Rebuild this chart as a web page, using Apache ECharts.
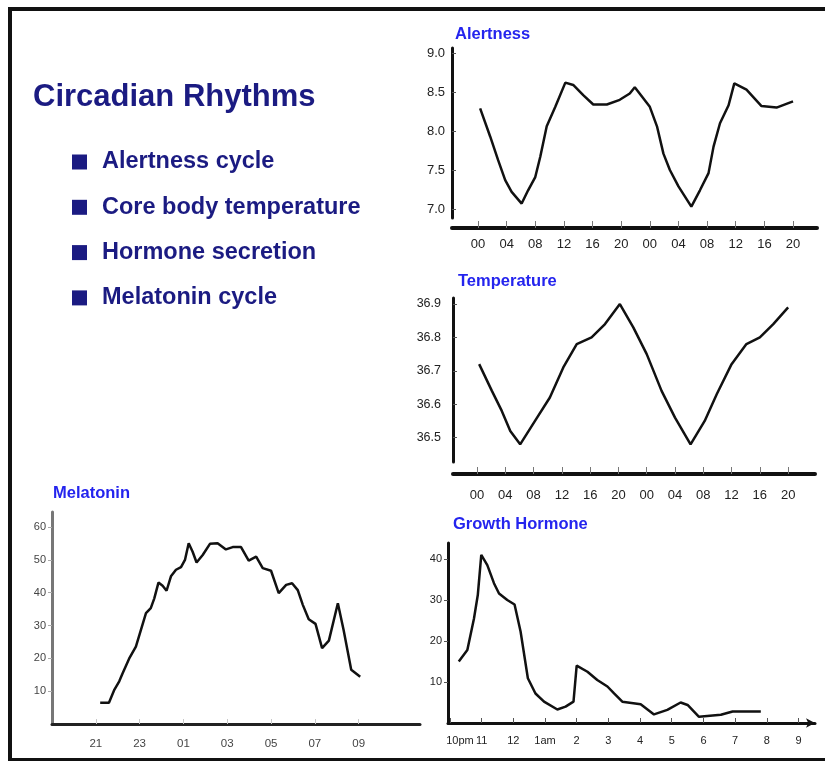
<!DOCTYPE html>
<html>
<head>
<meta charset="utf-8">
<script src="https://cdn.jsdelivr.net/npm/echarts@6/dist/echarts.min.js"></script>
<style>
html,body{margin:0;padding:0;background:#fff;overflow:hidden}
#wrap{position:relative;width:825px;height:762px;overflow:hidden;background:#fff}
#chart{position:absolute;left:0;top:0;width:825px;height:762px}
#frame{position:absolute;left:8px;top:7px;width:840px;height:747px;border-left:4px solid #111;border-top:4px solid #111;border-bottom:3px solid #111;pointer-events:none}
</style>
</head>
<body>
<div id="wrap"><div id="chart"></div><div id="frame"></div></div>
<script>
// ---------- text ----------
const mainTitle = 'Circadian Rhythms';
const bulletItems = ['Alertness cycle', 'Core body temperature', 'Hormone secretion', 'Melatonin cycle'];
const panelTitles = ['Alertness', 'Temperature', 'Melatonin', 'Growth Hormone'];

// ---------- Alertness (hours from midnight of day 1) ----------
const alertHours  = [0.3, 1.7, 2.8, 3.8, 4.7, 6.1, 7.0, 8.0, 8.7, 9.6, 10.8, 12.2, 13.3, 14.7, 16.1, 18.0, 19.8, 21.2, 21.9, 24.0, 25.0, 25.9, 26.8, 28.0, 29.8, 31.0, 32.2, 32.9, 33.8, 35.0, 35.8, 37.5, 39.6, 41.7, 44.0];
const alertValues = [8.29, 7.93, 7.63, 7.37, 7.22, 7.07, 7.24, 7.41, 7.67, 8.06, 8.31, 8.62, 8.59, 8.46, 8.34, 8.34, 8.40, 8.48, 8.56, 8.31, 8.06, 7.71, 7.50, 7.29, 7.03, 7.24, 7.46, 7.80, 8.10, 8.33, 8.61, 8.53, 8.32, 8.30, 8.38];
const alertXTicks  = [0, 4, 8, 12, 16, 20, 24, 28, 32, 36, 40, 44];
const alertXLabels = ['00', '04', '08', '12', '16', '20', '00', '04', '08', '12', '16', '20'];
const alertYTicks  = [7.0, 7.5, 8.0, 8.5, 9.0];
const alertYLabels = ['7.0', '7.5', '8.0', '8.5', '9.0'];

// ---------- Temperature ----------
const tempHours  = [0.3, 2.1, 3.5, 4.7, 6.1, 8.2, 10.3, 12.2, 14.1, 16.2, 18.1, 20.2, 22.1, 24.0, 26.1, 28.0, 30.2, 32.2, 33.9, 36.0, 38.1, 40.0, 41.9, 44.0];
const tempValues = [36.72, 36.64, 36.58, 36.52, 36.48, 36.55, 36.62, 36.71, 36.78, 36.80, 36.84, 36.90, 36.83, 36.75, 36.64, 36.56, 36.48, 36.55, 36.63, 36.72, 36.78, 36.80, 36.84, 36.89];
const tempXTicks  = [0, 4, 8, 12, 16, 20, 24, 28, 32, 36, 40, 44];
const tempXLabels = ['00', '04', '08', '12', '16', '20', '00', '04', '08', '12', '16', '20'];
const tempYTicks  = [36.5, 36.6, 36.7, 36.8, 36.9];
const tempYLabels = ['36.5', '36.6', '36.7', '36.8', '36.9'];

// ---------- Melatonin (hours, 21 = 9pm, 25 = 1am ...) ----------
const melaHours  = [21.2, 21.6, 21.85, 22.07, 22.22, 22.52, 22.83, 23.06, 23.29, 23.51, 23.67, 23.86, 24.05, 24.23, 24.43, 24.66, 24.89, 25.07, 25.24, 25.42, 25.6, 25.88, 26.21, 26.56, 26.94, 27.25, 27.63, 27.98, 28.32, 28.62, 29.0, 29.35, 29.69, 29.96, 30.22, 30.45, 30.72, 31.03, 31.33, 31.64, 32.05, 32.31, 32.66, 33.07];
const melaValues = [6.5, 6.5, 10.5, 13.0, 15.4, 19.9, 23.6, 28.7, 33.8, 35.3, 38.3, 43.1, 42.1, 40.6, 45.0, 47.0, 47.8, 50.0, 55.1, 52.5, 49.2, 51.5, 54.9, 55.1, 53.2, 53.9, 53.9, 49.8, 51.0, 47.5, 46.7, 39.9, 42.4, 42.9, 40.8, 36.3, 31.9, 30.5, 23.1, 25.4, 36.8, 28.7, 16.5, 14.4];
const melaXTicks  = [21, 23, 25, 27, 29, 31, 33];
const melaXLabels = ['21', '23', '01', '03', '05', '07', '09'];
const melaYTicks  = [10, 20, 30, 40, 50, 60];
const melaYLabels = ['10', '20', '30', '40', '50', '60'];

// ---------- Growth hormone ----------
const ghHours  = [22.28, 22.55, 22.76, 22.88, 22.99, 23.18, 23.39, 23.55, 23.81, 24.04, 24.23, 24.46, 24.7, 24.97, 25.39, 25.65, 25.9, 26.0, 26.34, 26.65, 26.97, 27.18, 27.44, 28.02, 28.44, 28.86, 29.28, 29.5, 29.86, 30.55, 30.92, 31.81];
const ghValues = [15.0, 17.8, 25.5, 31.2, 41.0, 38.5, 34.1, 31.6, 30.0, 28.9, 22.3, 10.9, 7.2, 5.2, 3.3, 4.0, 5.2, 14.0, 12.5, 10.5, 8.9, 7.2, 5.2, 4.6, 2.1, 3.2, 5.0, 4.4, 1.5, 2.0, 2.8, 2.8];
const ghXTicks  = [22, 23, 24, 25, 26, 27, 28, 29, 30, 31, 32, 33];
const ghXLabels = ['10pm', '11', '12', '1am', '2', '3', '4', '5', '6', '7', '8', '9'];
const ghYTicks  = [10, 20, 30, 40];
const ghYLabels = ['10', '20', '30', '40'];

// ---------- styling ----------
const NAVY = '#1b1b82';
const BLUE = '#2424ee';
const FONT = '"Liberation Sans", Arial, Helvetica, sans-serif';

const pairs = (xs, ys) => xs.map((x, i) => [x, ys[i]]);
const lookup = (ticks, labels) => (v) => {
  const i = ticks.findIndex(t => Math.abs(t - v) < 1e-6);
  return i >= 0 ? labels[i] : '';
};

function xAxisCfg(grid, min, max, ticks, labels, opt) {
  return {
    type: 'value', gridIndex: grid, min: min, max: max,
    offset: opt.offset || 0,
    splitLine: { show: false },
    axisLine: { show: true, onZero: false, lineStyle: { color: opt.lineColor || '#111', width: opt.lineWidth || 4 },
                symbol: opt.symbol || ['none', 'none'], symbolSize: [7, 9] },
    axisTick: { show: true, inside: true, length: opt.tickLen || 7, customValues: ticks,
                lineStyle: { color: opt.tickColor || '#777', width: 1 } },
    axisLabel: { show: true, showMinLabel: true, showMaxLabel: true, hideOverlap: false,
                 customValues: ticks, formatter: opt.formatter || lookup(ticks, labels),
                 margin: opt.margin, fontFamily: FONT, fontSize: opt.fontSize || 13, color: opt.labelColor || '#222',
                 rich: opt.rich }
  };
}
function yAxisCfg(grid, min, max, ticks, labels, opt) {
  return {
    type: 'value', gridIndex: grid, min: min, max: max,
    splitLine: { show: false },
    axisLine: { show: true, onZero: false, lineStyle: { color: opt.lineColor || '#111', width: opt.lineWidth || 3 } },
    axisTick: { show: true, inside: opt.tickInside !== false, length: 4, customValues: ticks,
                lineStyle: { color: opt.tickColor || '#555', width: 1 } },
    axisLabel: { show: true, customValues: ticks, formatter: lookup(ticks, labels),
                 margin: opt.margin, fontFamily: FONT, fontSize: opt.fontSize || 13, color: opt.labelColor || '#222' }
  };
}

const titles = [
  { text: mainTitle, left: 33, top: 82, padding: 0, textStyle: { fontFamily: FONT, fontSize: 31, fontWeight: 'bold', color: NAVY } }
];
bulletItems.forEach((b, i) => {
  titles.push({
    text: '{sq|}{t|' + b + '}', left: 72, top: 150 + i * 45.3, padding: 0,
    textStyle: { rich: {
      sq: { width: 15, height: 15, backgroundColor: NAVY, verticalAlign: 'middle' },
      t: { fontFamily: FONT, fontSize: 23.5, fontWeight: 'bold', color: NAVY, padding: [0, 0, 0, 15] }
    } }
  });
});
const panelPos = [[455, 26], [458, 273], [53, 485], [453, 516]];
panelTitles.forEach((t, i) => {
  titles.push({ text: t, left: panelPos[i][0], top: panelPos[i][1], padding: 0,
    textStyle: { fontFamily: FONT, fontSize: 16.5, fontWeight: 'bold', color: BLUE } });
});

const lineStyle = { color: '#111', width: 2.5 };

const option = {
  backgroundColor: '#fff',
  animation: false,
  title: titles,
  grid: [
    { left: 452, right: 8, top: 48, bottom: 544 },
    { left: 453, right: 10, top: 298, bottom: 300 },
    { left: 52, right: 405, top: 512, bottom: 38 },
    { left: 448, right: 10, top: 543, bottom: 39 }
  ],
  xAxis: [
    xAxisCfg(0, -3.63, 47.35, alertXTicks, alertXLabels, { offset: 10, margin: 10 }),
    xAxisCfg(1, -3.4, 47.8, tempXTicks, tempXLabels, { offset: 12, margin: 15 }),
    xAxisCfg(2, 19, 35.8, melaXTicks, melaXLabels, { lineColor: '#222', lineWidth: 3, tickColor: '#c8c8c8', tickLen: 5, margin: 14, fontSize: 11.5, labelColor: '#444' }),
    xAxisCfg(3, 21.94, 33.52, ghXTicks, ghXLabels, { lineWidth: 3, symbol: ['none', 'arrow'], tickColor: '#555', tickLen: 5, margin: 12, fontSize: 11, labelColor: '#222',
      formatter: (v) => { const s = lookup(ghXTicks, ghXLabels)(v); return Math.abs(v - 22) < 1e-6 ? '{f|' + s + '}' : s; },
      rich: { f: { fontFamily: FONT, fontSize: 11, color: '#222', padding: [0, 0, 0, 20] } } })
  ],
  yAxis: [
    yAxisCfg(0, 6.885, 9.064, alertYTicks, alertYLabels, { margin: 7 }),
    yAxisCfg(1, 36.427, 36.918, tempYTicks, tempYLabels, { margin: 12, fontSize: 12.5 }),
    yAxisCfg(2, 0, 64.6, melaYTicks, melaYLabels, { lineColor: '#777', lineWidth: 3, tickInside: false, tickColor: '#aaa', margin: 6, fontSize: 11, labelColor: '#444' }),
    yAxisCfg(3, 0, 43.9, ghYTicks, ghYLabels, { lineWidth: 3, tickInside: false, margin: 6, fontSize: 11 })
  ],
  series: [
    { type: 'line', xAxisIndex: 0, yAxisIndex: 0, data: pairs(alertHours, alertValues), showSymbol: false, lineStyle: lineStyle },
    { type: 'line', xAxisIndex: 1, yAxisIndex: 1, data: pairs(tempHours, tempValues), showSymbol: false, lineStyle: lineStyle },
    { type: 'line', xAxisIndex: 2, yAxisIndex: 2, data: pairs(melaHours, melaValues), showSymbol: false, lineStyle: lineStyle },
    { type: 'line', xAxisIndex: 3, yAxisIndex: 3, data: pairs(ghHours, ghValues), showSymbol: false, lineStyle: lineStyle }
  ]
};

const chart = echarts.init(document.getElementById('chart'), null, { renderer: 'canvas' });
chart.setOption(option);
</script>
</body>
</html>
